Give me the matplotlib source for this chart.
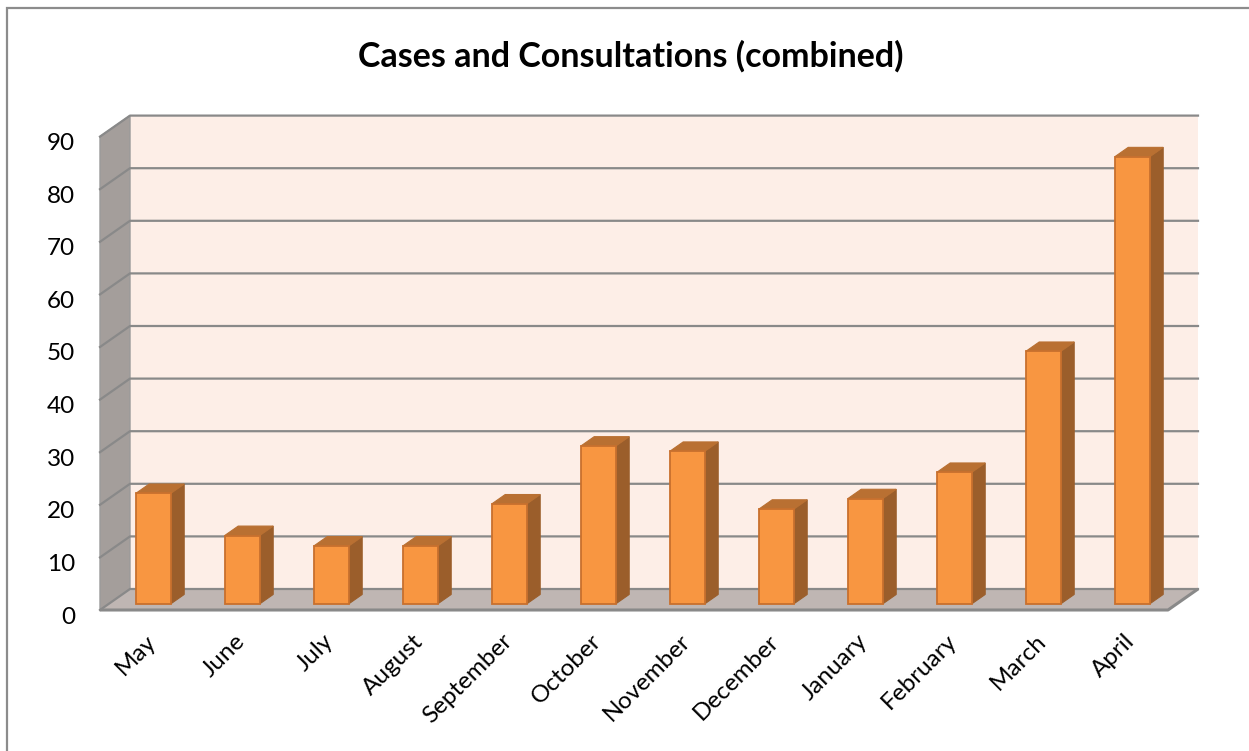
import matplotlib
matplotlib.use("Agg")
import matplotlib.pyplot as plt
from matplotlib.patches import Polygon, Rectangle
from matplotlib.transforms import ScaledTranslation

months = ["May", "June", "July", "August", "September", "October",
          "November", "December", "January", "February", "March", "April"]
counts = [21, 13, 11, 11, 19, 30, 29, 18, 20, 25, 48, 85]
y_ticks = list(range(0, 100, 10))

plt.rcParams["font.family"] = ["Lato", "DejaVu Sans"]

W, H = 1249, 751
fig = plt.figure(figsize=(W / 100, H / 100), dpi=100)

# chart frame
fig.patches.append(Rectangle((7 / W, -0.05), 1.1, 1 - 8 / H + 0.05,
                             transform=fig.transFigure, fill=False,
                             edgecolor="#8c8c8c", linewidth=1.6))

fig.text(631 / W, 1 - 56 / H, "Cases and Consultations (combined)",
         ha="center", va="center", fontsize=24.5, fontweight="bold")

# front plane of the plot box
ax = fig.add_axes([100 / W, 141 / H, 1068 / W, (610 - 136.6) / H])
ax.set_xlim(-0.5, len(months) - 0.5)
ax.set_ylim(0, 90)
ax.patch.set_visible(False)
for s in ax.spines.values():
    s.set_visible(False)

# depth of the 3-D box expressed in data units (x: categories, y: values)
DX, DY = 30 / 89, 21 / 5.26
x0, x1 = -0.5, len(months) - 0.5
top = 90

wall_c = "#fdeee7"
side_c = "#a49e9b"
floor_c = "#bfb6b3"
grid_c = "#898989"

# back wall
ax.add_patch(Polygon([(x0 + DX, DY), (x1 + DX, DY), (x1 + DX, top + DY),
                      (x0 + DX, top + DY)], closed=True, facecolor=wall_c,
                     edgecolor="none", clip_on=False, zorder=1))
# side wall
ax.add_patch(Polygon([(x0, 0), (x0 + DX, DY), (x0 + DX, top + DY), (x0, top)],
                     closed=True, facecolor=side_c, edgecolor="#9a9a9a",
                     linewidth=1.0, clip_on=False, zorder=1))
# floor
ax.add_patch(Polygon([(x0, 0), (x1, 0), (x1 + DX, DY), (x0 + DX, DY)],
                     closed=True, facecolor=floor_c, edgecolor="none",
                     clip_on=False, zorder=1))
ax.plot([x0, x1, x1 + DX], [0, 0, DY], color=grid_c, lw=2.2,
        solid_capstyle="butt", clip_on=False, zorder=2)

# gridlines on back wall and side wall
for v in y_ticks:
    ax.plot([x0, x0 + DX, x1 + DX], [v, v + DY, v + DY], color=grid_c,
            lw=1.6, clip_on=False, zorder=2)

# bars
f0, f1 = 0.29, 0.74
bw = 35 / 89
ddx, ddy = (f1 - f0) * DX, (f1 - f0) * DY
front_c, top_c, side_bar_c, edge_c = "#f89641", "#b97032", "#9b5e2b", "#c8702e"
for i, v in enumerate(counts):
    xl = i - bw / 2 + f0 * DX
    yb = f0 * DY
    xr = xl + bw
    ax.add_patch(Polygon([(xr, yb), (xr + ddx, yb + ddy), (xr + ddx, yb + v + ddy),
                          (xr, yb + v)], closed=True, facecolor=side_bar_c,
                         edgecolor=side_bar_c, linewidth=0.8, clip_on=False, zorder=3))
    ax.add_patch(Polygon([(xl, yb + v), (xr, yb + v), (xr + ddx, yb + v + ddy),
                          (xl + ddx, yb + v + ddy)], closed=True, facecolor=top_c,
                         edgecolor=top_c, linewidth=0.8, clip_on=False, zorder=3))
    ax.add_patch(Rectangle((xl, yb), bw, v, facecolor=front_c,
                           edgecolor=edge_c, linewidth=1.3, clip_on=False, zorder=4))

# axes labels
ax.set_yticks(y_ticks)
ax.set_yticklabels([str(v) for v in y_ticks], fontsize=17.5)
ax.tick_params(axis="y", length=0, pad=18)
for lab in ax.get_yticklabels():
    lab.set_transform(lab.get_transform() + ScaledTranslation(0, -5 / 100, fig.dpi_scale_trans))

ax.set_xticks(range(len(months)))
ax.set_xticklabels(months, fontsize=17.5, rotation=45, ha="right",
                   va="center", rotation_mode="anchor")
ax.tick_params(axis="x", length=0, pad=20)
for lab in ax.get_xticklabels():
    lab.set_transform(lab.get_transform() + ScaledTranslation(8 / 100, 0, fig.dpi_scale_trans))

fig.savefig("out.png", dpi=100)
